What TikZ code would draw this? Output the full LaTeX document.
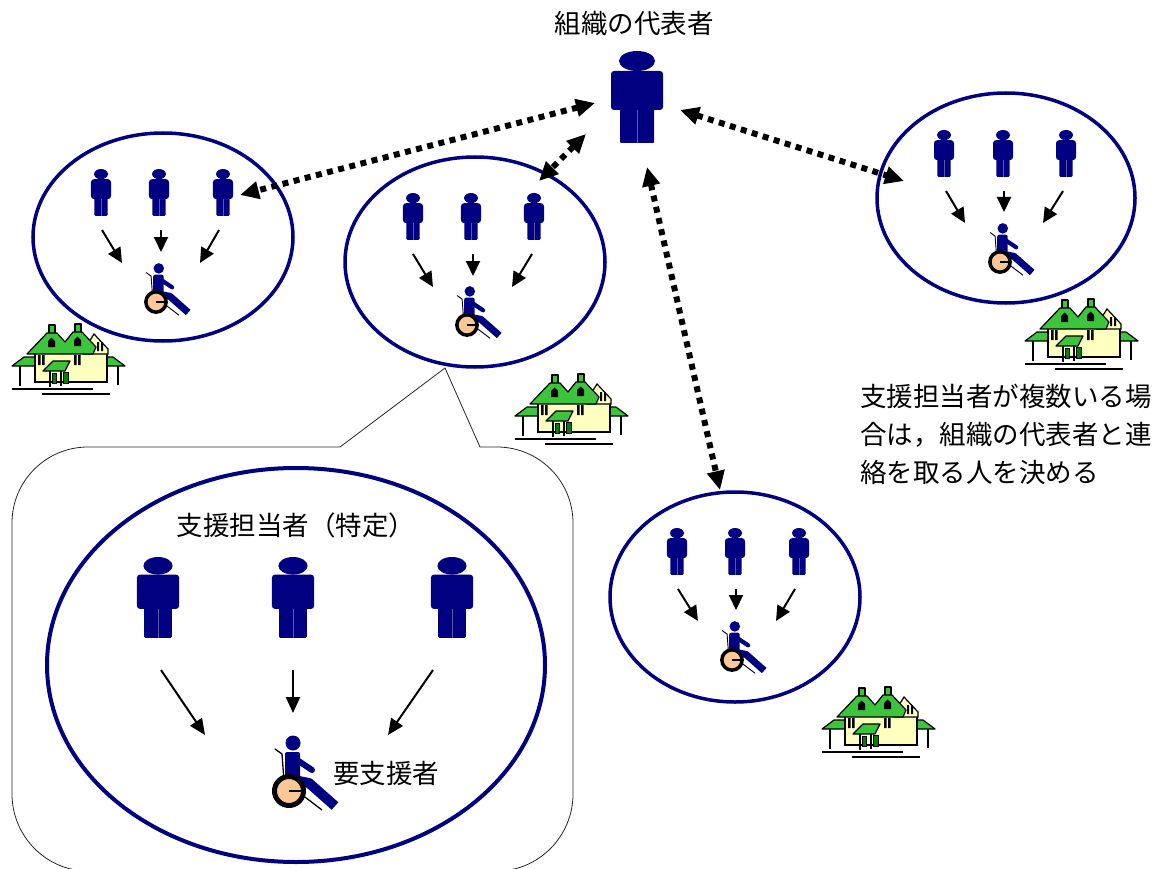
\documentclass[tikz,border=0pt]{standalone}
\usepackage{fontspec}
\newfontfamily\jp{Noto Sans CJK JP}
\usetikzlibrary{arrows.meta}
\definecolor{navy}{HTML}{000080}
\definecolor{roofgreen}{HTML}{3CC43C}
\definecolor{wallyellow}{HTML}{FFFFC0}
\definecolor{doorgreen}{HTML}{008000}
\definecolor{peach}{RGB}{250,200,150}

\tikzset{
  lbl/.style={font=\jp\fontsize{26.5}{38}\selectfont, inner sep=0pt},
  group/.style={draw=navy, line width=3.5pt},
  bubble/.style={draw=black!85, line width=0.8pt},
  careline/.style={line width=2pt, -{Triangle[length=15pt,width=14pt]}},
  bigcare/.style={line width=2pt, -{Triangle[length=16pt,width=14pt]}},
  contact/.style={line width=6pt, dash pattern=on 6pt off 5.5pt,
    {Triangle[length=19pt,width=17pt]}-{Triangle[length=19pt,width=17pt]}},
  hl/.style={line width=1.2pt},
  roof/.style={fill=roofgreen, draw=black, line width=1.2pt, line join=round},
  wall/.style={fill=wallyellow, draw=black, line width=1.2pt},
  % standing figure, origin at the top of the head
  person/.pic={
    \fill[navy] (0,10) ellipse [x radius=18, y radius=10];
    \fill[navy, rounded corners=3pt] (-26,20) rectangle (26,59);
    \fill[navy, rounded corners=1pt] (-17,54) rectangle (17,92);
    \draw[navy!65!white, line width=0.5pt] (0,59) -- (0,92);
  },
  % person in a wheelchair, origin at the wheel hub, #1 = scale
  wheelchair/.pic={
    \begin{scope}[scale=#1]
      \draw[line width=#1*1.3pt, line cap=round, line join=round]
        (-14,-42) -- (-7,-37) -- (-5,-10);
      \fill[navy] (4,-48) circle [radius=7.5];
      \fill[navy, rounded corners=2pt] (-4,-39) rectangle (11,-8);
      \draw[navy, line width=#1*6pt, line cap=round] (8,-31) -- (23,-21);
      \draw[navy, line width=#1*10pt, line join=round] (0,-12) -- (20,-8) -- (46,15);
      \draw[line width=#1*1.3pt] (12,3) -- (33,19);
      \filldraw[fill=peach, draw=black, line width=#1*5pt] (0,0) circle [radius=14.5];
      \draw[line width=#1*1.6pt] (0,0) -- (14,0);
    \end{scope}
  },
  % two-gabled house, origin at the top left corner
  house/.pic={
    \draw[hl] (10,45) -- (10,66);
    \draw[hl] (108,45) -- (108,65);
    \filldraw[roof] (2,46) -- (14,37) -- (28,37) -- (28,46) -- cycle;
    \filldraw[roof] (80,37) -- (103,37) -- (115,46) -- (80,46) -- cycle;
    \filldraw[wall] (25,32) rectangle (97,62);
    \filldraw[wall] (74,30) -- (84,14) -- (98,29) -- (98,34) -- (74,34) -- cycle;
    \filldraw[roof] (39,5) rectangle (45,14);
    \filldraw[roof] (65,4) rectangle (71,13);
    \filldraw[roof] (17,34) -- (37,13) -- (47,13) -- (55,22) -- (63,12) -- (72,12)
      -- (86,27) -- (83,34) -- cycle;
    \fill (38,27) -- (38,21) -- (41.5,17.5) -- (45,21) -- (45,27) -- cycle;
    \fill (64,26) -- (64,20) -- (67.5,16.5) -- (71,20) -- (71,26) -- cycle;
    \fill (28,35) rectangle (30.5,45) (32,35) rectangle (34.5,45);
    \fill (64,35) rectangle (66.5,45) (68,35) rectangle (70.5,45);
    \fill (87,22) rectangle (89,31) (91,22) rectangle (93,31);
    \draw[hl] (40,50) -- (40,67);
    \draw[hl] (51,50) -- (51,66);
    \filldraw[fill=doorgreen, draw=black, line width=1pt] (42,53) rectangle (46,63);
    \filldraw[fill=doorgreen, draw=black, line width=1pt] (53,52) rectangle (58,63);
    \filldraw[roof] (33,51) -- (43,41) -- (60,41) -- (55,51) -- cycle;
    \draw[line width=2pt] (2,69) -- (83,69);
    \draw[line width=2pt] (32,74) -- (100,74);
  },
}

\begin{document}
\begin{tikzpicture}[x=1pt, y=-1pt]
\useasboundingbox (0,0) rectangle (1172,869);

% enlarged view of one support group, pointing at the second circle
\draw[bubble] (12,523) .. controls (12,481) and (46,447) .. (88,447)
  -- (340,447) -- (445,368) -- (480,447) -- (497,447)
  .. controls (539,447) and (573,481) .. (573,523) -- (573,794)
  .. controls (573,836) and (539,871) .. (497,871) -- (88,871)
  .. controls (46,871) and (12,836) .. (12,794) -- cycle;

% houses
\pic (h1) at (10,320) {house};
\pic (h2) at (513,370) {house};
\pic (h3) at (1023,295) {house};
\pic (h4) at (820,683) {house};

% support groups
\draw[group] (163,237) ellipse [x radius=130, y radius=104];
\draw[group] (475,262) ellipse [x radius=130, y radius=105];
\draw[group] (1006,198) ellipse [x radius=129, y radius=105];
\draw[group] (735,597) ellipse [x radius=125, y radius=105];
\draw[draw=navy, line width=4pt] (296,665) ellipse [x radius=249, y radius=197];

% organisation representative
\node[lbl] (rep) at (634,24) {組織の代表者};
\pic (leader) at (637,51) {person};

% group 1
\pic[xscale=0.385, yscale=0.51] (g1a) at (101,169) {person};
\pic[xscale=0.385, yscale=0.51] (g1b) at (159,169) {person};
\pic[xscale=0.385, yscale=0.51] (g1c) at (223,169) {person};
\pic (g1w) at (156,302) {wheelchair=0.7};
% group 2
\pic[xscale=0.385, yscale=0.51] (g2a) at (413,193) {person};
\pic[xscale=0.385, yscale=0.51] (g2b) at (471,193) {person};
\pic[xscale=0.385, yscale=0.51] (g2c) at (534,193) {person};
\pic (g2w) at (467,325) {wheelchair=0.7};
% group 3
\pic[xscale=0.385, yscale=0.51] (g3a) at (944,130) {person};
\pic[xscale=0.385, yscale=0.51] (g3b) at (1003,130) {person};
\pic[xscale=0.385, yscale=0.51] (g3c) at (1066,130) {person};
\pic (g3w) at (1000,262) {wheelchair=0.7};
% group 4
\pic[xscale=0.385, yscale=0.51] (g4a) at (677,528) {person};
\pic[xscale=0.385, yscale=0.51] (g4b) at (735,528) {person};
\pic[xscale=0.385, yscale=0.51] (g4c) at (799,528) {person};
\pic (g4w) at (732,660) {wheelchair=0.7};
% enlarged group
\pic[xscale=0.81, yscale=0.88] (bga) at (158,557) {person};
\pic[xscale=0.81, yscale=0.88] (bgb) at (293,557) {person};
\pic[xscale=0.81, yscale=0.88] (bgc) at (452,557) {person};
\pic (bgw) at (289,791) {wheelchair=1};

% arrow ends
\coordinate (g1s1) at (102,230); \coordinate (g1t1) at (122,263);
\coordinate (g1s2) at (161,230); \coordinate (g1t2) at (161,252);
\coordinate (g1s3) at (219,230); \coordinate (g1t3) at (200,263);
\coordinate (g2s1) at (413,254); \coordinate (g2t1) at (433,287);
\coordinate (g2s2) at (473,254); \coordinate (g2t2) at (473,276);
\coordinate (g2s3) at (532,254); \coordinate (g2t3) at (512,287);
\coordinate (g3s1) at (946,191); \coordinate (g3t1) at (965,223);
\coordinate (g3s2) at (1004,191); \coordinate (g3t2) at (1004,212);
\coordinate (g3s3) at (1063,191); \coordinate (g3t3) at (1043,223);
\coordinate (g4s1) at (678,589); \coordinate (g4t1) at (698,621);
\coordinate (g4s2) at (736,589); \coordinate (g4t2) at (736,610);
\coordinate (g4s3) at (795,589); \coordinate (g4t3) at (776,621);
\coordinate (bgs1) at (161,670); \coordinate (bgt1) at (205,735);
\coordinate (bgs2) at (293,670); \coordinate (bgt2) at (293,713);
\coordinate (bgs3) at (433,670); \coordinate (bgt3) at (388,735);

\foreach \g in {g1,g2,g3,g4}
  \foreach \k in {1,2,3}
    \draw[careline] (\g s\k) -- (\g t\k);
\foreach \k in {1,2,3}
  \draw[bigcare] (bgs\k) -- (bgt\k);

% contact lines between representative and groups
\coordinate (r1) at (595,103); \coordinate (c1) at (240,195);
\coordinate (r2) at (586,134); \coordinate (c2) at (539,181);
\coordinate (r3) at (647,167); \coordinate (c3) at (720,490);
\coordinate (r4) at (680,110); \coordinate (c4) at (904,181);
\draw[contact] (r1) -- (c1);
\draw[contact] (r2) -- (c2);
\draw[contact] (r3) -- (c3);
\draw[contact] (r4) -- (c4);

% labels
\node[lbl] (team) at (296,525) {支援担当者（特定）};
\node[lbl, anchor=west] (client) at (333,773) {要支援者};
\node[lbl, anchor=west, align=left] (note) at (860,434)
  {支援担当者が複数いる場\\合は，組織の代表者と連\\絡を取る人を決める};
\end{tikzpicture}
\end{document}
